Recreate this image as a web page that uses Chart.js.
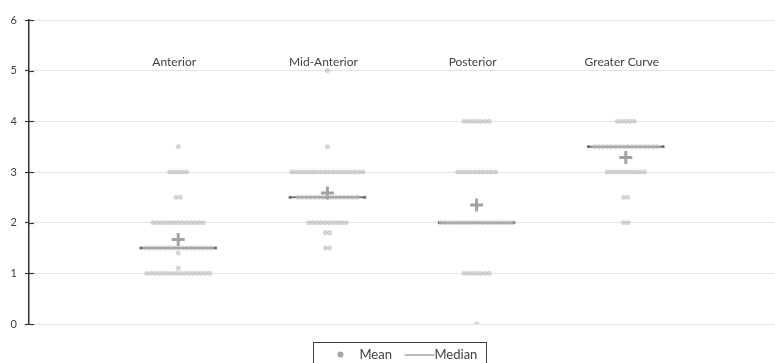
<!DOCTYPE html>
<html>
<head>
<meta charset="utf-8">
<script src="https://cdn.jsdelivr.net/npm/chart.js@4.4.1/dist/chart.umd.min.js"></script>
<style>
  html, body { margin: 0; padding: 0; background: #ffffff; overflow: hidden; }
  #wrap { width: 775px; height: 363px; position: relative; }
</style>
</head>
<body>
<div id="wrap"><canvas id="chart"></canvas></div>
<script>
// Scores per region
const categories = ['Anterior', 'Mid-Anterior', 'Posterior', 'Greater Curve'];

const anterior = [
  3.5,
  3, 3, 3, 3, 3,
  2.5, 2.5,
  2, 2, 2, 2, 2, 2, 2, 2, 2, 2, 2, 2, 2,
  1.5, 1.5, 1.5, 1.5, 1.5, 1.5, 1.5, 1.5, 1.5, 1.5, 1.5, 1.5, 1.5, 1.5, 1.5, 1.5, 1.5,
  1.4, 1.1,
  1, 1, 1, 1, 1, 1, 1, 1, 1, 1, 1, 1, 1, 1, 1, 1
];
const midAnterior = [
  5,
  3.5,
  3, 3, 3, 3, 3, 3, 3, 3, 3, 3, 3, 3, 3, 3, 3, 3, 3, 3,
  2.5, 2.5, 2.5, 2.5, 2.5, 2.5, 2.5, 2.5, 2.5, 2.5, 2.5, 2.5, 2.5, 2.5, 2.5,
  2, 2, 2, 2, 2, 2, 2, 2, 2, 2,
  1.8, 1.8,
  1.5, 1.5
];
const posterior = [
  4, 4, 4, 4, 4, 4, 4,
  3, 3, 3, 3, 3, 3, 3, 3, 3, 3,
  2, 2, 2, 2, 2, 2, 2, 2, 2, 2, 2, 2, 2, 2, 2, 2, 2, 2,
  1, 1, 1, 1, 1, 1, 1,
  0
];
const greaterCurve = [
  4, 4, 4, 4, 4,
  3.5, 3.5, 3.5, 3.5, 3.5, 3.5, 3.5, 3.5, 3.5, 3.5, 3.5, 3.5, 3.5, 3.5, 3.5, 3.5,
  3, 3, 3, 3, 3, 3, 3, 3, 3, 3,
  2.5, 2.5,
  2, 2
];
const groups = [anterior, midAnterior, posterior, greaterCurve];
const yTicks = [0, 1, 2, 3, 4, 5, 6];

// Layout of the swarm on the x value axis (categories sit at 1..4)
const SWARM_STEP = 0.028;
const MEDIAN_HALF = 0.25;

function mean(arr) {
  return arr.reduce((s, v) => s + v, 0) / arr.length;
}
function median(arr) {
  const s = [...arr].sort((a, b) => a - b);
  const m = Math.floor(s.length / 2);
  return s.length % 2 ? s[m] : (s[m - 1] + s[m]) / 2;
}
function swarm(values, cx) {
  const counts = new Map();
  values.forEach(v => counts.set(v, (counts.get(v) || 0) + 1));
  const pts = [];
  counts.forEach((n, v) => {
    for (let i = 0; i < n; i++) {
      pts.push({ x: cx + (i - (n - 1) / 2) * SWARM_STEP, y: v });
    }
  });
  return pts;
}

const pointData = [];
groups.forEach((g, i) => pointData.push(...swarm(g, i + 1)));
const meanData = groups.map((g, i) => ({ x: i + 1, y: mean(g) }));

const medianSets = groups.map((g, i) => {
  const m = median(g);
  return {
    type: 'line',
    label: 'Median',
    data: [{ x: i + 1 - MEDIAN_HALF, y: m }, { x: i + 1 + MEDIAN_HALF, y: m }],
    borderColor: '#7a7a7a',
    borderWidth: 2,
    pointStyle: 'rect',
    pointRadius: 2,
    pointBackgroundColor: '#6e6e6e',
    pointBorderWidth: 0,
    order: 3
  };
});

const TEXT = '#404040';
const FONT = 'Lato, "Open Sans", sans-serif';

// Category names, inner tick marks and the boxed legend
const decor = {
  id: 'decor',
  afterDraw(chart) {
    const { ctx, chartArea, scales } = chart;
    const x = scales.x, y = scales.y;
    ctx.save();

    ctx.strokeStyle = '#333333';
    ctx.lineWidth = 1.2;
    yTicks.forEach(t => {
      const py = Math.round(y.getPixelForValue(t)) + 0.5;
      ctx.beginPath();
      ctx.moveTo(chartArea.left, py);
      ctx.lineTo(chartArea.left + 5, py);
      ctx.stroke();
    });

    ctx.fillStyle = TEXT;
    ctx.font = '12px ' + FONT;
    ctx.textAlign = 'center';
    ctx.textBaseline = 'middle';
    categories.forEach((c, i) => {
      ctx.fillText(c, x.getPixelForValue(i + 1) - 4, y.getPixelForValue(5.17));
    });

    // legend
    const boxW = 173;
    const cx = (chartArea.left + chartArea.right) / 2 - 3;
    const L = Math.round(cx - boxW / 2) + 0.5;
    const T = chartArea.bottom + 18.5;
    const midY = T + 12;
    ctx.strokeStyle = '#404040';
    ctx.lineWidth = 1;
    ctx.strokeRect(L, T, boxW, 40);

    ctx.fillStyle = '#a6a6a6';
    ctx.beginPath();
    ctx.arc(L + 27, midY, 3, 0, Math.PI * 2);
    ctx.fill();

    ctx.fillStyle = TEXT;
    ctx.font = '13px ' + FONT;
    ctx.textAlign = 'left';
    ctx.fillText('Mean', L + 46, midY);

    ctx.strokeStyle = '#7a7a7a';
    ctx.beginPath();
    ctx.moveTo(L + 91, midY + 0.5);
    ctx.lineTo(L + 121, midY + 0.5);
    ctx.stroke();
    ctx.fillText('Median', L + 121, midY);

    ctx.restore();
  }
};

new Chart(document.getElementById('chart'), {
  type: 'scatter',
  data: {
    datasets: [
      {
        label: 'Mean',
        data: meanData,
        pointStyle: 'cross',
        pointRadius: 6.5,
        borderColor: '#a3a3a3',
        borderWidth: 3,
        order: 0
      },
      {
        label: 'Scores',
        data: pointData,
        pointStyle: 'circle',
        pointRadius: 2.2,
        backgroundColor: 'rgba(190,190,190,0.62)',
        borderColor: 'rgba(175,175,175,0.5)',
        borderWidth: 0.6,
        order: 1
      },
      ...medianSets
    ]
  },
  options: {
    responsive: true,
    maintainAspectRatio: false,
    animation: false,
    layout: { autoPadding: false, padding: { top: 20, bottom: 39, left: 0, right: 0 } },
    plugins: {
      legend: { display: false },
      tooltip: { enabled: false }
    },
    scales: {
      x: { type: 'linear', min: 0, max: 5, display: false, ticks: { display: false } },
      y: {
        min: 0,
        max: 6,
        afterBuildTicks(scale) { scale.ticks = yTicks.map(v => ({ value: v })); },
        afterFit(scale) { scale.width = 29; },
        ticks: {
          color: TEXT,
          font: { family: FONT, size: 11 },
          padding: 8
        },
        grid: {
          color: '#e3e3e3',
          lineWidth: 1,
          tickColor: '#333333',
          tickLength: 4,
          tickWidth: 1.2
        },
        border: { color: '#333333', width: 1.5 }
      }
    }
  },
  plugins: [decor]
});
</script>
</body>
</html>
